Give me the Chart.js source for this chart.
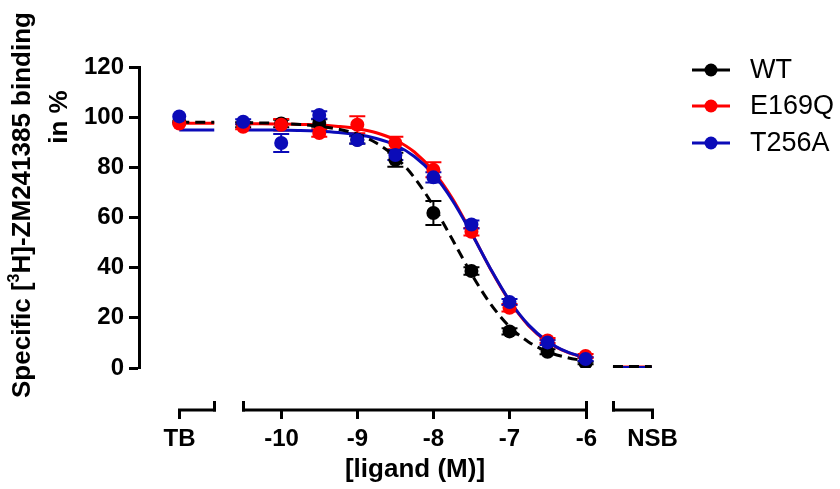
<!DOCTYPE html>
<html>
<head>
<meta charset="utf-8">
<script src="https://cdn.jsdelivr.net/npm/chart.js@4.4.0/dist/chart.umd.min.js"></script>
<style>
  html, body { margin: 0; padding: 0; background: #fff; }
  #wrap { width: 840px; height: 489px; }
</style>
</head>
<body>
<div id="wrap"><canvas id="binding"></canvas></div>
<script>
// log [ligand] (M) of the measured points
const logConc = [-10.5, -10, -9.5, -9, -8.5, -8, -7.5, -7, -6.5, -6];
const seriesNames = ['WT', 'E169Q', 'T256A'];
const seriesColors = ['#000000', '#ff0000', '#0b0bb8'];

// specific binding in % (mean) and SEM
const wtPoints = [97, 97.5, 97.7, 91, 83, 61.8, 38.7, 14.6, 6.5, 2];
const wtSem = [1, 1.5, 1.5, 1.5, 2.8, 4.8, 1.5, 1.2, 1, 0.5];
const e169qPoints = [96.2, 97, 93.7, 97, 89.7, 79, 54.3, 24, 11, 4.8];
const e169qSem = [1, 2.3, 1.5, 3.4, 2.5, 3, 1.5, 1.5, 1, 0.8];
const t256aPoints = [98.2, 89.7, 100.9, 90.9, 84.9, 76, 57.2, 26.3, 10.2, 3.6];
const t256aSem = [1, 3.6, 1.5, 1.5, 2, 2, 1.6, 1.2, 1, 0.8];

// total binding (TB) and non specific binding (NSB)
const tbPoints = [98, 97.5, 100.3];
const tbLevels = [98, 97.6, 94.9];
const nsbLevels = [0.6, 0.4, 0.2];

// fitted curves, every 0.25 log unit
const curveX = [-10.5, -10.25, -10, -9.75, -9.5, -9.25, -9, -8.75, -8.5, -8.25, -8, -7.75, -7.5, -7.25, -7, -6.75, -6.5, -6.25, -6];
const wtCurve = [97.8, 97.7, 97.5, 97.1, 96.4, 95.2, 93.2, 89.7, 84.2, 75.9, 64.6, 51.2, 37.5, 25.6, 16.5, 10.4, 6.5, 4.2, 2.8];
const e169qCurve = [97.4, 97.4, 97.3, 97.1, 96.9, 96.3, 95.4, 93.8, 90.9, 86.1, 78.4, 67.6, 53.9, 39.5, 26.7, 16.9, 10.4, 6.4, 4.0];
const t256aCurve = [94.9, 94.9, 94.8, 94.7, 94.4, 93.9, 93.1, 91.5, 88.9, 84.3, 77.2, 66.8, 53.7, 39.6, 26.9, 17.2, 10.6, 6.5, 4.1];

// broken x axis: TB piece, main piece, NSB piece
const tbSeg = [-11.34, -10.88];
const mainSeg = [-10.5, -6];
const nsbSeg = [-5.64, -5.13];
const xTicks = [-10, -9, -8, -7, -6];

const allPoints = [wtPoints, e169qPoints, t256aPoints];
const allSem = [wtSem, e169qSem, t256aSem];
const allCurves = [wtCurve, e169qCurve, t256aCurve];

const FONT = "'Liberation Sans', Arial, sans-serif";

function xy(xs, ys) {
    return xs.map((x, i) => ({ x: x, y: ys[i] }));
}

const datasets = [];
// draw order: lower "order" is drawn on top
seriesNames.forEach((name, s) => {
    const col = seriesColors[s];
    const dash = s === 0 ? [10, 6] : [];
    // points (TB point + dose points)
    datasets.push({
        label: name,
        data: [{ x: tbSeg[0], y: tbPoints[s] }].concat(xy(logConc, allPoints[s])),
        showLine: false,
        pointRadius: 7,
        pointBackgroundColor: col,
        pointBorderColor: col,
        pointBorderWidth: 0,
        order: 2 - s
    });
    const curveOrder = s === 0 ? 3 : (s === 2 ? 4 : 5);
    datasets.push({
        label: name + ' fit',
        data: xy(curveX, allCurves[s]),
        showLine: true,
        cubicInterpolationMode: 'monotone',
        borderColor: col,
        borderWidth: 3,
        borderDash: dash,
        pointRadius: 0,
        order: curveOrder
    });
    datasets.push({
        label: name + ' TB',
        data: [{ x: tbSeg[0], y: tbLevels[s] }, { x: tbSeg[1], y: tbLevels[s] }],
        showLine: true,
        borderColor: col,
        borderWidth: 3,
        borderDash: dash,
        pointRadius: 0,
        order: curveOrder
    });
    datasets.push({
        label: name + ' NSB',
        data: [{ x: nsbSeg[0], y: nsbLevels[s] }, { x: nsbSeg[1], y: nsbLevels[s] }],
        showLine: true,
        borderColor: col,
        borderWidth: 3,
        borderDash: dash,
        pointRadius: 0,
        order: curveOrder
    });
});

// error bars, axis pieces, titles and legend
const extras = {
    id: 'extras',
    beforeDatasetsDraw(chart) {
        const ctx = chart.ctx;
        const xs = chart.scales.x, ys = chart.scales.y;
        ctx.save();
        ctx.lineWidth = 2;
        for (let s = 0; s < 3; s++) {
            ctx.strokeStyle = seriesColors[s];
            logConc.forEach((v, i) => {
                const px = xs.getPixelForValue(v);
                const top = ys.getPixelForValue(allPoints[s][i] + allSem[s][i]);
                const bot = ys.getPixelForValue(allPoints[s][i] - allSem[s][i]);
                ctx.beginPath();
                ctx.moveTo(px, top); ctx.lineTo(px, bot);
                ctx.moveTo(px - 8, top); ctx.lineTo(px + 8, top);
                ctx.moveTo(px - 8, bot); ctx.lineTo(px + 8, bot);
                ctx.stroke();
            });
        }
        ctx.restore();
    },
    afterDraw(chart) {
        const ctx = chart.ctx;
        const xs = chart.scales.x;
        const area = chart.chartArea;
        const px = v => Math.round(xs.getPixelForValue(v)) + 0.5;
        const yAx = area.bottom + 42;

        ctx.save();
        ctx.strokeStyle = '#000';
        ctx.lineWidth = 3;
        ctx.lineCap = 'butt';
        [tbSeg, mainSeg, nsbSeg].forEach(seg => {
            ctx.beginPath();
            ctx.moveTo(px(seg[0]) - 1.5, yAx);
            ctx.lineTo(px(seg[1]) + 1.5, yAx);
            ctx.stroke();
        });
        // ticks pointing down
        const down = [tbSeg[0]].concat(xTicks, [nsbSeg[1]]);
        down.forEach(v => {
            ctx.beginPath();
            ctx.moveTo(px(v), yAx);
            ctx.lineTo(px(v), yAx + 9);
            ctx.stroke();
        });
        // break marks pointing up
        [tbSeg[1], mainSeg[0], mainSeg[1], nsbSeg[0]].forEach(v => {
            ctx.beginPath();
            ctx.moveTo(px(v), yAx - 9);
            ctx.lineTo(px(v), yAx + 1.5);
            ctx.stroke();
        });

        ctx.fillStyle = '#000';
        ctx.font = 'bold 24px ' + FONT;
        ctx.textAlign = 'center';
        ctx.textBaseline = 'middle';
        ctx.fillText('TB', px(tbSeg[0]), yAx + 29);
        xTicks.forEach(v => ctx.fillText(String(v), px(v), yAx + 29));
        ctx.fillText('NSB', px(nsbSeg[1]), yAx + 29);

        ctx.font = 'bold 26px ' + FONT;
        ctx.fillText('[ligand (M)]', (px(mainSeg[0]) + px(mainSeg[1])) / 2, yAx + 60);

        // y title with superscript
        ctx.save();
        ctx.translate(23, 205);
        ctx.rotate(-Math.PI / 2);
        const big = 'bold 26px ' + FONT, small = 'bold 16px ' + FONT;
        const parts = [['Specific [', big, 0], ['3', small, -8], ['H]-ZM241385 binding', big, 0]];
        let total = 0;
        parts.forEach(p => { ctx.font = p[1]; total += ctx.measureText(p[0]).width; });
        let cx = -total / 2;
        ctx.textAlign = 'left';
        parts.forEach(p => {
            ctx.font = p[1];
            ctx.fillText(p[0], cx, p[2]);
            cx += ctx.measureText(p[0]).width;
        });
        ctx.restore();
        ctx.save();
        ctx.translate(60, 117);
        ctx.rotate(-Math.PI / 2);
        ctx.font = big;
        ctx.textAlign = 'center';
        ctx.fillText('in %', 0, 0);
        ctx.restore();

        // legend
        const rows = [70, 106, 143];
        seriesNames.forEach((name, s) => {
            ctx.strokeStyle = seriesColors[s];
            ctx.fillStyle = seriesColors[s];
            ctx.lineWidth = 3;
            ctx.beginPath();
            ctx.moveTo(692, rows[s]);
            ctx.lineTo(730, rows[s]);
            ctx.stroke();
            ctx.beginPath();
            ctx.arc(711, rows[s], 6.5, 0, Math.PI * 2);
            ctx.fill();
            ctx.fillStyle = '#000';
            ctx.font = '27px ' + FONT;
            ctx.textAlign = 'left';
            ctx.fillText(name, 750, rows[s] + 1);
        });
        ctx.restore();
    }
};

new Chart(document.getElementById('binding'), {
    type: 'scatter',
    data: { datasets: datasets },
    options: {
        responsive: true,
        maintainAspectRatio: false,
        animation: false,
        devicePixelRatio: 1,
        layout: { padding: { left: 0, right: 180, top: 67, bottom: 121 } },
        plugins: { legend: { display: false }, tooltip: { enabled: false } },
        scales: {
            x: { type: 'linear', min: -11.869, max: -5.022, display: false },
            y: {
                min: 0,
                max: 120,
                ticks: {
                    stepSize: 20,
                    color: '#000',
                    padding: 5,
                    font: { family: FONT, size: 24, weight: 'bold' }
                },
                grid: { drawOnChartArea: false, drawTicks: true, tickLength: 10, tickWidth: 3, tickColor: '#000' },
                border: { display: true, color: '#000', width: 3 },
                afterFit(scale) { scale.width = 139; }
            }
        }
    },
    plugins: [extras]
});
</script>
</body>
</html>
